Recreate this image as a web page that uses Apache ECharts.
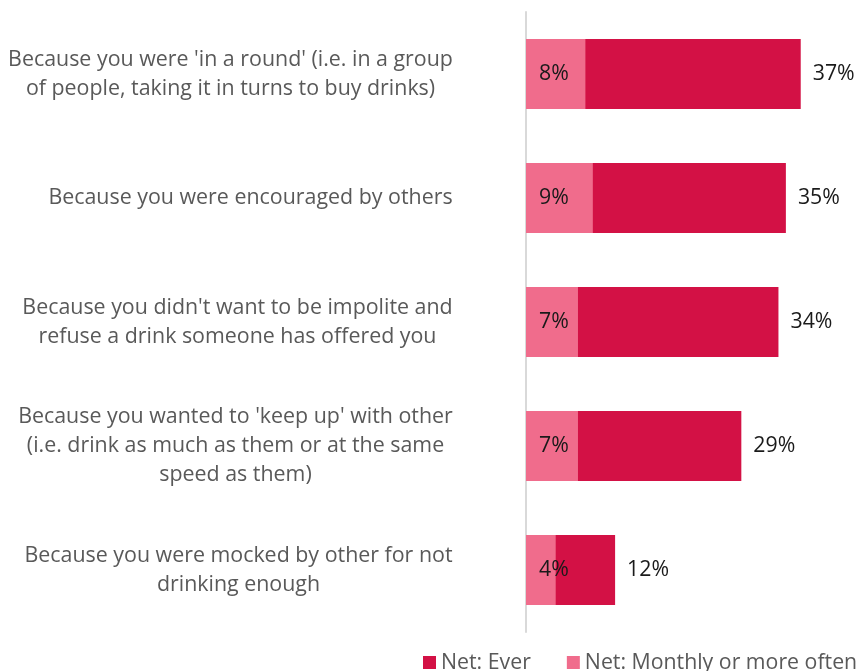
<!DOCTYPE html>
<html>
<head>
<meta charset="utf-8">
<script src="https://cdn.jsdelivr.net/npm/echarts@6/dist/echarts.min.js"></script>
<style>html,body{margin:0;padding:0;background:#fff;}#c{width:864px;height:671px;}</style>
</head>
<body>
<div id="c"></div>
<script>
const categories = [
  "Because you were 'in a round' (i.e. in a group\nof people, taking it in turns to buy drinks)",
  "Because you were encouraged by others",
  "Because you didn't want to be impolite and\nrefuse a drink someone has offered you",
  "Because you wanted to 'keep up' with other\n(i.e. drink as much as them or at the same\nspeed as them)",
  "Because you were mocked by other for not\ndrinking enough"
];
const everValues = [37, 35, 34, 29, 12];
const monthlyValues = [8, 9, 7, 7, 4];
const seriesNames = ["Net: Ever", "Net: Monthly or more often"];

const FONT = '"Open Sans"';
const LH = 29;

const ctx = document.createElement('canvas').getContext('2d');
ctx.font = '100px ' + FONT;
const FS = Math.round(445 / ctx.measureText(categories[0].split('\n')[0]).width * 1000) / 10;
const FS2 = Math.round(273 / ctx.measureText(seriesNames[1]).width * 1000) / 10;
ctx.font = FS + 'px ' + FONT;
const rich = {};
categories.forEach((c, i) => {
  const w = Math.max(...c.split('\n').map(l => ctx.measureText(l).width));
  rich['l' + i] = { width: Math.ceil(w), align: 'center', fontFamily: FONT, fontSize: FS, color: '#595959', lineHeight: LH };
});

const chart = echarts.init(document.getElementById('c'), null, { renderer: 'canvas' });
chart.setOption({
  animation: false,
  grid: { left: 526, right: 41, top: 12, bottom: 39, containLabel: false },
  legend: {
    data: seriesNames,
    left: 418, top: 647,
    icon: 'rect', itemWidth: 13, itemHeight: 13, itemGap: 36,
    textStyle: { fontFamily: FONT, fontSize: FS2, color: '#595959' }
  },
  xAxis: { type: 'value', min: 0, max: 40, show: false },
  yAxis: {
    type: 'category', data: categories, inverse: true,
    axisLine: { show: true, lineStyle: { color: '#d9d9d9', width: 2 } },
    axisTick: { show: false },
    axisLabel: {
      margin: 73, align: 'right',
      formatter: (v, idx) => v.split('\n').map(l => '{l' + idx + '|' + l + '}').join('\n'),
      rich: rich
    }
  },
  series: [
    {
      name: seriesNames[0], type: 'bar', data: everValues,
      barWidth: 70, barGap: '-100%',
      itemStyle: { color: '#D31145' },
      label: { show: true, position: 'right', distance: 12, formatter: '{c}%', fontFamily: FONT, fontSize: FS2, color: '#1a1a1a' }
    },
    {
      name: seriesNames[1], type: 'bar', data: monthlyValues,
      barWidth: 70, barGap: '-100%',
      itemStyle: { color: '#F06C8C' },
      label: { show: true, position: 'insideLeft', distance: 13, formatter: '{c}%', fontFamily: FONT, fontSize: FS2, color: '#1a1a1a' }
    }
  ]
});
</script>
</body>
</html>
